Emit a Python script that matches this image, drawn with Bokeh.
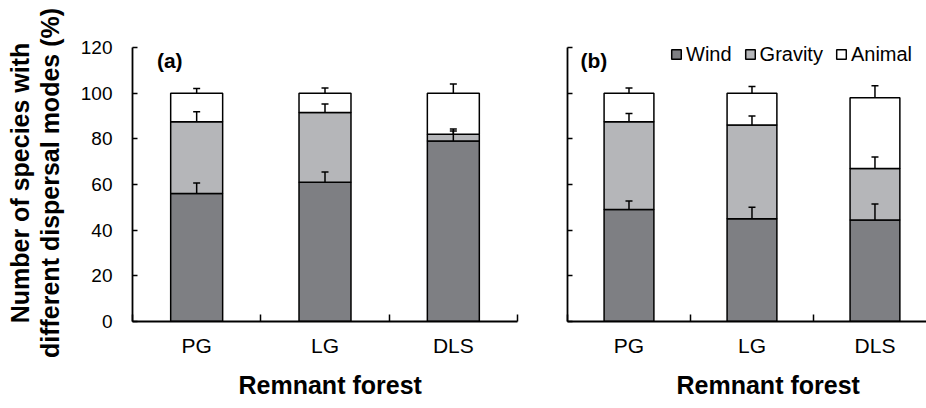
from bokeh.plotting import figure
from bokeh.models import (FixedTicker, Whisker, TeeHead, ColumnDataSource, Label,
                          Legend, LegendItem, Range1d, Title)
from bokeh.layouts import row
from bokeh.embed import file_html
from bokeh.resources import INLINE

categories = ["PG", "LG", "DLS"]
series = ["Wind", "Gravity", "Animal"]
y_ticks = [0, 20, 40, 60, 80, 100, 120]

# panel (a)
wind_a = [56, 61, 79]
gravity_a = [31.5, 30.5, 3]
animal_a = [12.5, 8.5, 18]
wind_err_a = [4.6, 4.5, 4.4]
gravity_err_a = [4.3, 3.7, 2.3]
animal_err_a = [2.0, 2.3, 4.0]

# panel (b)
wind_b = [49, 45, 44.5]
gravity_b = [38.5, 41, 22.5]
animal_b = [12.5, 14, 31]
wind_err_b = [3.8, 5.0, 7.0]
gravity_err_b = [3.6, 4.0, 5.0]
animal_err_b = [2.2, 2.9, 5.2]

colors = ["#7e7f83", "#b5b6b9", "#ffffff"]
FONT = "Liberation Sans"


def make_panel(values, errors, tag, width, x_end, border_left, border_right, show_y,
               legend, xlabel_offset):
    p = figure(width=width, height=408, output_backend="svg", toolbar_location=None,
               x_range=Range1d(0, x_end), y_range=Range1d(0, 121.3),
               min_border_left=border_left, min_border_right=border_right,
               min_border_top=44, min_border_bottom=85)
    p.grid.visible = False
    p.outline_line_color = None
    p.background_fill_color = "white"
    p.border_fill_color = "white"

    xs = [i + 0.5 for i in range(len(categories))]
    bottom = [0.0] * len(categories)
    renderers = []
    whisker_srcs = []
    for vals, errs, col in zip(values, errors, colors):
        top = [b + v for b, v in zip(bottom, vals)]
        src = ColumnDataSource(dict(x=xs, bottom=bottom, top=top))
        r = p.vbar(x="x", width=0.405, bottom="bottom", top="top", source=src,
                   fill_color=col, line_color="black", line_width=1.5)
        renderers.append(r)
        whisker_srcs.append(ColumnDataSource(dict(
            x=xs, lower=top, upper=[t + e for t, e in zip(top, errs)])))
        bottom = top
    for ws in whisker_srcs:
        w = Whisker(base="x", lower="lower", upper="upper", source=ws, dimension="height",
                    lower_head=None,
                    upper_head=TeeHead(size=7, line_width=1.5, line_color="black"),
                    line_width=1.5, line_color="black", level="overlay")
        p.add_layout(w)

    # x axis
    xa = p.xaxis[0]
    xa.ticker = FixedTicker(ticks=xs, minor_ticks=[0, 1, 2, 3])
    xa.major_label_overrides = {x: c for x, c in zip(xs, categories)}
    xa.major_tick_in = 0
    xa.major_tick_out = 0
    xa.minor_tick_in = 7
    xa.minor_tick_out = 0
    xa.minor_tick_line_width = 1.5
    xa.minor_tick_line_color = "black"
    xa.axis_line_width = 1.8
    xa.axis_line_color = "black"
    xa.major_label_text_font = FONT
    xa.major_label_text_font_size = "21px"
    xa.major_label_text_color = "black"
    xa.major_label_standoff = 12

    p.add_layout(Title(text="Remnant forest", align="left", offset=xlabel_offset,
                       standoff=19, text_font=FONT, text_font_size="25px",
                       text_font_style="bold", text_color="black"), "below")

    # y axis
    ya = p.yaxis[0]
    ya.ticker = FixedTicker(ticks=y_ticks, minor_ticks=[])
    ya.major_tick_in = 5
    ya.major_tick_out = 0
    ya.major_tick_line_width = 1.5
    ya.major_tick_line_color = "black"
    ya.axis_line_width = 1.8
    ya.axis_line_color = "black"
    ya.bounds = (0, 120)
    if show_y:
        ya.major_label_text_font = FONT
        ya.major_label_text_font_size = "19px"
        ya.major_label_text_color = "black"
        ya.major_label_standoff = 20
        ya.axis_label = "Number of species with\ndifferent dispersal modes (%)"
        ya.axis_label_text_font = FONT
        ya.axis_label_text_font_size = "25px"
        ya.axis_label_text_font_style = "bold"
        ya.axis_label_text_color = "black"
        ya.axis_label_text_line_height = 1.05
        ya.axis_label_standoff = 14
    else:
        ya.major_label_text_font_size = "10px"
        ya.major_label_text_color = None
        ya.major_label_standoff = 0

    p.add_layout(Label(x=0.19 if show_y else 0.106, y=114.5, text=tag,
                       text_font=FONT, text_font_size="21px", text_font_style="bold",
                       text_baseline="middle", text_color="black"))

    if legend:
        items = [LegendItem(label=s, renderers=[r]) for s, r in zip(series, renderers)]
        lg = Legend(items=items, orientation="horizontal", location=(103, 255),
                    glyph_width=12, glyph_height=12, label_standoff=4, spacing=12,
                    padding=0, margin=0, label_height=24,
                    label_text_font=FONT, label_text_font_size="20px",
                    label_text_color="black",
                    border_line_color=None, background_fill_alpha=0)
        p.add_layout(lg)
    return p


p1 = make_panel([wind_a, gravity_a, animal_a], [wind_err_a, gravity_err_a, animal_err_a],
                "(a)", 540, 3, 132, 23, True, False, 106)
p2 = make_panel([wind_b, gravity_b, animal_b], [wind_err_b, gravity_err_b, animal_err_b],
                "(b)", 386, 2.919, 27, 0, False, True, 109)

layout = row(p1, p2)
open("out.html", "w").write(file_html(layout, INLINE))
